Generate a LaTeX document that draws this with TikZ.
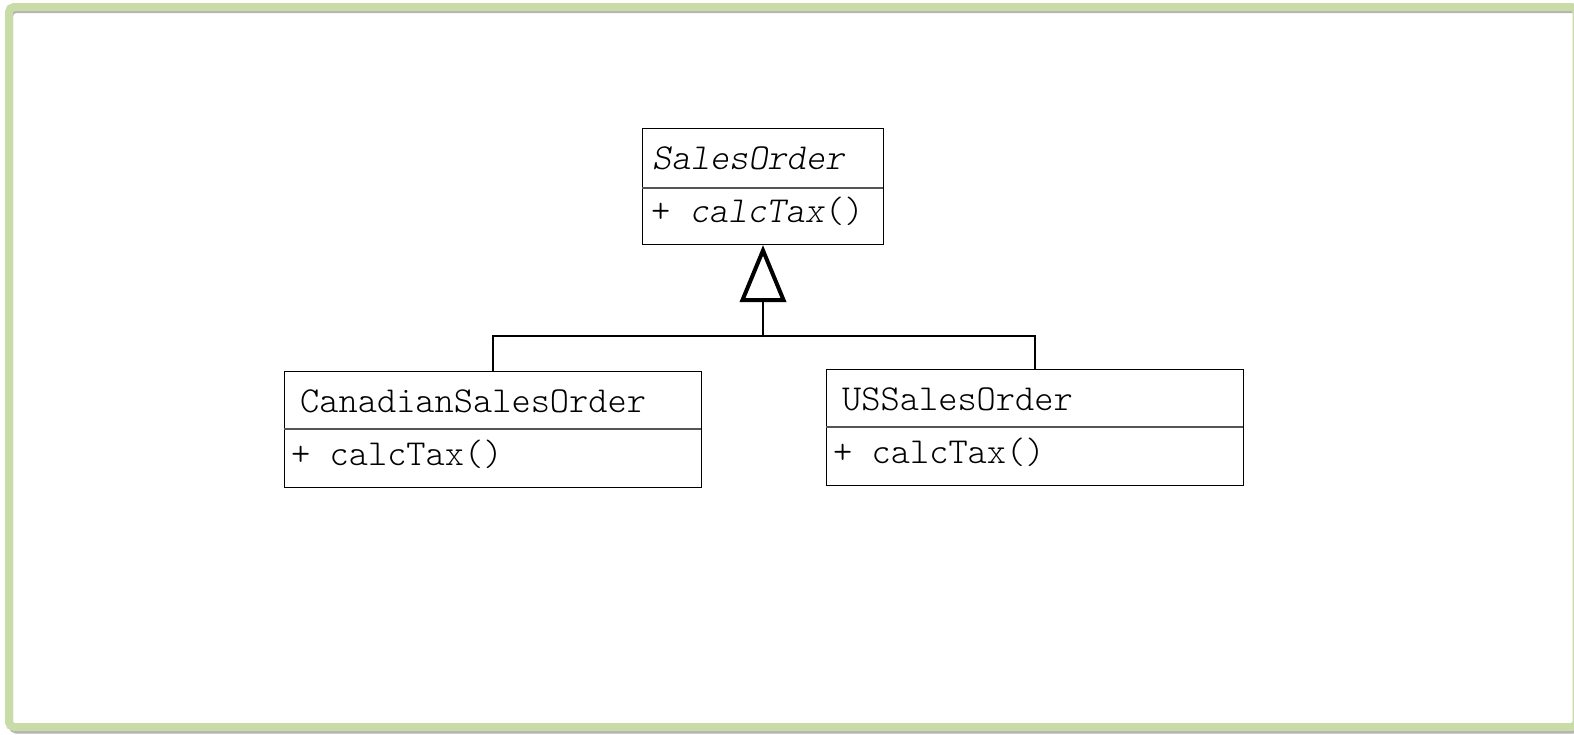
\documentclass[tikz,border=0pt]{standalone}
\usepackage{fontspec}
\setmonofont{lmmonolt10-regular.otf}[ItalicFont=lmmonolt10-oblique.otf]
\usetikzlibrary{arrows.meta}
\definecolor{framegreen}{HTML}{C9DBA6}
\definecolor{frameshadow}{HTML}{B4B4B4}
\definecolor{divider}{HTML}{555555}
\tikzset{
  compartment/.style={draw=black, line width=1.1pt, fill=white, anchor=north west, inner sep=0pt},
  label/.style={anchor=base west, inner sep=0pt, font=\fontsize{36.6}{42}\selectfont\ttfamily},
  generalization/.style={line width=2pt, line join=miter},
}
\begin{document}
\begin{tikzpicture}[x=1pt, y=-1pt]
  \useasboundingbox (0,0) rectangle (1574,734);
  % page frame with its soft shadow
  \begin{scope}
    \clip (0,0) rectangle (1574,734);
    \draw[frameshadow, line width=4pt, rounded corners=5pt] (11,11) rectangle (1578,731.5);
    \draw[framegreen, line width=8pt, rounded corners=5pt] (9,7) rectangle (1576.5,727);
  \end{scope}

  % abstract base class
  \node[compartment, minimum width=241pt, minimum height=116pt] (so) at (642,128) {};
  \draw[divider, line width=1.1pt] (642,188) -- (883,188);
  \node[label] (soname) at (652,169) {\itshape SalesOrder};
  \node[label] (soop) at (651,222) {+ \textit{calcTax}()};

  % subclasses
  \node[compartment, minimum width=417pt, minimum height=116pt] (cso) at (284,371) {};
  \draw[divider, line width=1.1pt] (284,429) -- (701,429);
  \node[label] (csoname) at (300,412) {CanadianSalesOrder};
  \node[label] (csoop) at (291,465) {+ calcTax()};

  \node[compartment, minimum width=417pt, minimum height=116pt] (uso) at (826,369) {};
  \draw[divider, line width=1.1pt] (826,427) -- (1243,427);
  \node[label] (usoname) at (842,410) {USSalesOrder};
  \node[label] (usoop) at (833,463) {+ calcTax()};

  % generalization tree
  \coordinate (j) at (763,336);
  \draw[generalization] (cso.north) |- (j);
  \draw[generalization] (uso.north) |- (j);
  \draw[generalization, -{Triangle[open, length=57pt, width=46pt, line width=4pt]}]
    (j) -- (j |- so.south);
\end{tikzpicture}
\end{document}
